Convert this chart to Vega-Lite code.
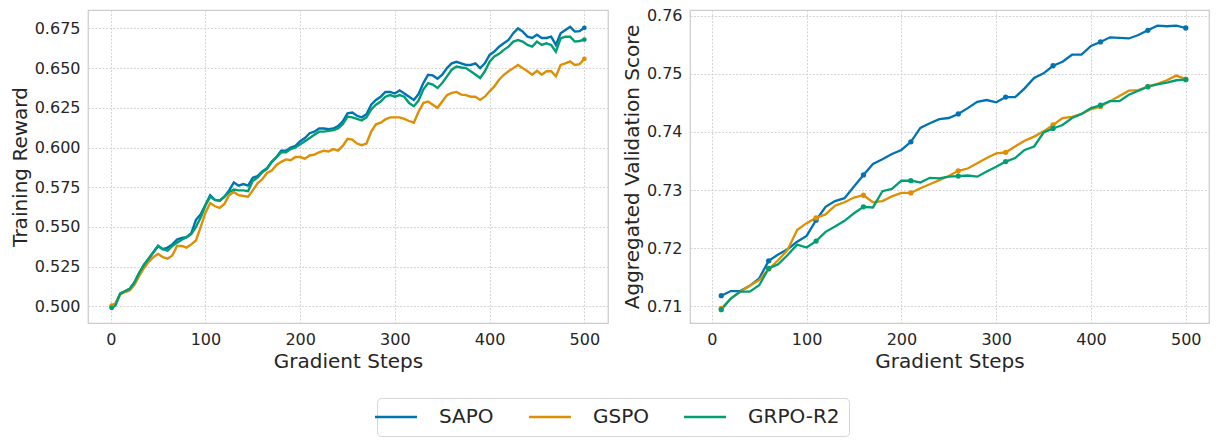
{
  "$schema": "https://vega.github.io/schema/vega-lite/v6.json",
  "background": "white",
  "padding": {"left": 9, "top": 7, "right": 5, "bottom": 5},
  "spacing": 12,
  "config": {
    "font": "DejaVu Sans",
    "view": {"stroke": "#cccccc", "strokeWidth": 1.25},
    "axis": {
      "domain": false,
      "ticks": false,
      "labelFontSize": 16,
      "labelColor": "#262626",
      "labelPadding": 8,
      "titleFontSize": 20,
      "titleFontWeight": "normal",
      "titleColor": "#262626",
      "titlePadding": 4,
      "gridColor": "#d4d4d4",
      "gridDash": [2, 1.5],
      "gridWidth": 1
    },
    "legend": {
      "orient": "none",
      "legendX": 289,
      "legendY": 388,
      "direction": "horizontal",
      "title": null,
      "symbolType": "M-4,0H4",
      "symbolSize": 110,
      "symbolStrokeWidth": 2.5,
      "labelFontSize": 20,
      "labelColor": "#262626",
      "labelOffset": 33,
      "columnPadding": 30,
      "padding": 9,
      "strokeColor": "#d6d6d6",
      "cornerRadius": 4,
      "fillColor": "white"
    }
  },
  "datasets": {
    "train": [
      {"step": 1, "SAPO": 0.4995, "GSPO": 0.5005, "GRPO-R2": 0.4990},
      {"step": 5, "SAPO": 0.5015, "GSPO": 0.5020, "GRPO-R2": 0.5005},
      {"step": 10, "SAPO": 0.5080, "GSPO": 0.5075, "GRPO-R2": 0.5080},
      {"step": 15, "SAPO": 0.5095, "GSPO": 0.5090, "GRPO-R2": 0.5095},
      {"step": 20, "SAPO": 0.5110, "GSPO": 0.5100, "GRPO-R2": 0.5110},
      {"step": 25, "SAPO": 0.5150, "GSPO": 0.5135, "GRPO-R2": 0.5150},
      {"step": 30, "SAPO": 0.5210, "GSPO": 0.5190, "GRPO-R2": 0.5210},
      {"step": 35, "SAPO": 0.5260, "GSPO": 0.5240, "GRPO-R2": 0.5260},
      {"step": 40, "SAPO": 0.5300, "GSPO": 0.5280, "GRPO-R2": 0.5300},
      {"step": 45, "SAPO": 0.5340, "GSPO": 0.5310, "GRPO-R2": 0.5340},
      {"step": 50, "SAPO": 0.5380, "GSPO": 0.5330, "GRPO-R2": 0.5380},
      {"step": 55, "SAPO": 0.5360, "GSPO": 0.5310, "GRPO-R2": 0.5360},
      {"step": 60, "SAPO": 0.5370, "GSPO": 0.5300, "GRPO-R2": 0.5350},
      {"step": 65, "SAPO": 0.5390, "GSPO": 0.5320, "GRPO-R2": 0.5380},
      {"step": 70, "SAPO": 0.5420, "GSPO": 0.5380, "GRPO-R2": 0.5400},
      {"step": 75, "SAPO": 0.5430, "GSPO": 0.5380, "GRPO-R2": 0.5420},
      {"step": 80, "SAPO": 0.5435, "GSPO": 0.5370, "GRPO-R2": 0.5435},
      {"step": 85, "SAPO": 0.5460, "GSPO": 0.5390, "GRPO-R2": 0.5455},
      {"step": 90, "SAPO": 0.5545, "GSPO": 0.5415, "GRPO-R2": 0.5500},
      {"step": 95, "SAPO": 0.5580, "GSPO": 0.5500, "GRPO-R2": 0.5560},
      {"step": 100, "SAPO": 0.5640, "GSPO": 0.5590, "GRPO-R2": 0.5635},
      {"step": 105, "SAPO": 0.5700, "GSPO": 0.5650, "GRPO-R2": 0.5690},
      {"step": 110, "SAPO": 0.5670, "GSPO": 0.5630, "GRPO-R2": 0.5670},
      {"step": 115, "SAPO": 0.5665, "GSPO": 0.5620, "GRPO-R2": 0.5665},
      {"step": 120, "SAPO": 0.5690, "GSPO": 0.5645, "GRPO-R2": 0.5690},
      {"step": 125, "SAPO": 0.5730, "GSPO": 0.5700, "GRPO-R2": 0.5720},
      {"step": 130, "SAPO": 0.5780, "GSPO": 0.5720, "GRPO-R2": 0.5735},
      {"step": 135, "SAPO": 0.5760, "GSPO": 0.5700, "GRPO-R2": 0.5730},
      {"step": 140, "SAPO": 0.5770, "GSPO": 0.5695, "GRPO-R2": 0.5730},
      {"step": 145, "SAPO": 0.5760, "GSPO": 0.5690, "GRPO-R2": 0.5725},
      {"step": 150, "SAPO": 0.5810, "GSPO": 0.5730, "GRPO-R2": 0.5790},
      {"step": 155, "SAPO": 0.5820, "GSPO": 0.5775, "GRPO-R2": 0.5810},
      {"step": 160, "SAPO": 0.5850, "GSPO": 0.5800, "GRPO-R2": 0.5845},
      {"step": 165, "SAPO": 0.5870, "GSPO": 0.5840, "GRPO-R2": 0.5865},
      {"step": 170, "SAPO": 0.5910, "GSPO": 0.5855, "GRPO-R2": 0.5910},
      {"step": 175, "SAPO": 0.5940, "GSPO": 0.5890, "GRPO-R2": 0.5940},
      {"step": 180, "SAPO": 0.5980, "GSPO": 0.5910, "GRPO-R2": 0.5970},
      {"step": 185, "SAPO": 0.5980, "GSPO": 0.5925, "GRPO-R2": 0.5970},
      {"step": 190, "SAPO": 0.6000, "GSPO": 0.5920, "GRPO-R2": 0.5990},
      {"step": 195, "SAPO": 0.6010, "GSPO": 0.5940, "GRPO-R2": 0.6000},
      {"step": 200, "SAPO": 0.6040, "GSPO": 0.5940, "GRPO-R2": 0.6020},
      {"step": 205, "SAPO": 0.6060, "GSPO": 0.5930, "GRPO-R2": 0.6040},
      {"step": 210, "SAPO": 0.6090, "GSPO": 0.5950, "GRPO-R2": 0.6060},
      {"step": 215, "SAPO": 0.6100, "GSPO": 0.5955, "GRPO-R2": 0.6080},
      {"step": 220, "SAPO": 0.6120, "GSPO": 0.5970, "GRPO-R2": 0.6100},
      {"step": 225, "SAPO": 0.6120, "GSPO": 0.5980, "GRPO-R2": 0.6100},
      {"step": 230, "SAPO": 0.6115, "GSPO": 0.5975, "GRPO-R2": 0.6105},
      {"step": 235, "SAPO": 0.6120, "GSPO": 0.5990, "GRPO-R2": 0.6110},
      {"step": 240, "SAPO": 0.6135, "GSPO": 0.5980, "GRPO-R2": 0.6120},
      {"step": 245, "SAPO": 0.6165, "GSPO": 0.6010, "GRPO-R2": 0.6146},
      {"step": 250, "SAPO": 0.6215, "GSPO": 0.6055, "GRPO-R2": 0.6195},
      {"step": 255, "SAPO": 0.6220, "GSPO": 0.6050, "GRPO-R2": 0.6190},
      {"step": 260, "SAPO": 0.6200, "GSPO": 0.6025, "GRPO-R2": 0.6180},
      {"step": 265, "SAPO": 0.6190, "GSPO": 0.6015, "GRPO-R2": 0.6170},
      {"step": 270, "SAPO": 0.6210, "GSPO": 0.6025, "GRPO-R2": 0.6190},
      {"step": 275, "SAPO": 0.6270, "GSPO": 0.6100, "GRPO-R2": 0.6240},
      {"step": 280, "SAPO": 0.6300, "GSPO": 0.6146, "GRPO-R2": 0.6270},
      {"step": 285, "SAPO": 0.6320, "GSPO": 0.6156, "GRPO-R2": 0.6290},
      {"step": 290, "SAPO": 0.6350, "GSPO": 0.6177, "GRPO-R2": 0.6320},
      {"step": 295, "SAPO": 0.6350, "GSPO": 0.6190, "GRPO-R2": 0.6330},
      {"step": 300, "SAPO": 0.6340, "GSPO": 0.6190, "GRPO-R2": 0.6320},
      {"step": 305, "SAPO": 0.6360, "GSPO": 0.6190, "GRPO-R2": 0.6330},
      {"step": 310, "SAPO": 0.6340, "GSPO": 0.6180, "GRPO-R2": 0.6320},
      {"step": 315, "SAPO": 0.6320, "GSPO": 0.6167, "GRPO-R2": 0.6280},
      {"step": 320, "SAPO": 0.6300, "GSPO": 0.6156, "GRPO-R2": 0.6260},
      {"step": 325, "SAPO": 0.6337, "GSPO": 0.6225, "GRPO-R2": 0.6296},
      {"step": 330, "SAPO": 0.6406, "GSPO": 0.6280, "GRPO-R2": 0.6365},
      {"step": 335, "SAPO": 0.6458, "GSPO": 0.6290, "GRPO-R2": 0.6406},
      {"step": 340, "SAPO": 0.6454, "GSPO": 0.6270, "GRPO-R2": 0.6396},
      {"step": 345, "SAPO": 0.6433, "GSPO": 0.6250, "GRPO-R2": 0.6375},
      {"step": 350, "SAPO": 0.6458, "GSPO": 0.6290, "GRPO-R2": 0.6406},
      {"step": 355, "SAPO": 0.6500, "GSPO": 0.6330, "GRPO-R2": 0.6448},
      {"step": 360, "SAPO": 0.6530, "GSPO": 0.6344, "GRPO-R2": 0.6490},
      {"step": 365, "SAPO": 0.6540, "GSPO": 0.6350, "GRPO-R2": 0.6510},
      {"step": 370, "SAPO": 0.6530, "GSPO": 0.6333, "GRPO-R2": 0.6504},
      {"step": 375, "SAPO": 0.6520, "GSPO": 0.6330, "GRPO-R2": 0.6500},
      {"step": 380, "SAPO": 0.6520, "GSPO": 0.6320, "GRPO-R2": 0.6480},
      {"step": 385, "SAPO": 0.6530, "GSPO": 0.6320, "GRPO-R2": 0.6460},
      {"step": 390, "SAPO": 0.6500, "GSPO": 0.6300, "GRPO-R2": 0.6438},
      {"step": 395, "SAPO": 0.6530, "GSPO": 0.6320, "GRPO-R2": 0.6480},
      {"step": 400, "SAPO": 0.6583, "GSPO": 0.6354, "GRPO-R2": 0.6540},
      {"step": 405, "SAPO": 0.6604, "GSPO": 0.6385, "GRPO-R2": 0.6573},
      {"step": 410, "SAPO": 0.6635, "GSPO": 0.6427, "GRPO-R2": 0.6590},
      {"step": 415, "SAPO": 0.6656, "GSPO": 0.6458, "GRPO-R2": 0.6615},
      {"step": 420, "SAPO": 0.6677, "GSPO": 0.6480, "GRPO-R2": 0.6635},
      {"step": 425, "SAPO": 0.6720, "GSPO": 0.6500, "GRPO-R2": 0.6667},
      {"step": 430, "SAPO": 0.6750, "GSPO": 0.6520, "GRPO-R2": 0.6677},
      {"step": 435, "SAPO": 0.6730, "GSPO": 0.6500, "GRPO-R2": 0.6667},
      {"step": 440, "SAPO": 0.6698, "GSPO": 0.6480, "GRPO-R2": 0.6646},
      {"step": 445, "SAPO": 0.6690, "GSPO": 0.6458, "GRPO-R2": 0.6635},
      {"step": 450, "SAPO": 0.6710, "GSPO": 0.6483, "GRPO-R2": 0.6667},
      {"step": 455, "SAPO": 0.6690, "GSPO": 0.6458, "GRPO-R2": 0.6646},
      {"step": 460, "SAPO": 0.6690, "GSPO": 0.6480, "GRPO-R2": 0.6656},
      {"step": 465, "SAPO": 0.6698, "GSPO": 0.6480, "GRPO-R2": 0.6646},
      {"step": 470, "SAPO": 0.6646, "GSPO": 0.6448, "GRPO-R2": 0.6604},
      {"step": 475, "SAPO": 0.6720, "GSPO": 0.6520, "GRPO-R2": 0.6687},
      {"step": 480, "SAPO": 0.6740, "GSPO": 0.6530, "GRPO-R2": 0.6698},
      {"step": 485, "SAPO": 0.6760, "GSPO": 0.6542, "GRPO-R2": 0.6698},
      {"step": 490, "SAPO": 0.6730, "GSPO": 0.6520, "GRPO-R2": 0.6667},
      {"step": 495, "SAPO": 0.6733, "GSPO": 0.6525, "GRPO-R2": 0.6671},
      {"step": 500, "SAPO": 0.6754, "GSPO": 0.6558, "GRPO-R2": 0.6680}
    ],
    "val": [
      {"step": 10, "SAPO": 0.7118, "GSPO": 0.7096, "GRPO-R2": 0.7094},
      {"step": 20, "SAPO": 0.7126, "GSPO": 0.7113, "GRPO-R2": 0.7113},
      {"step": 30, "SAPO": 0.7126, "GSPO": 0.7125, "GRPO-R2": 0.7125},
      {"step": 40, "SAPO": 0.7135, "GSPO": 0.7135, "GRPO-R2": 0.7125},
      {"step": 50, "SAPO": 0.7148, "GSPO": 0.7145, "GRPO-R2": 0.7136},
      {"step": 60, "SAPO": 0.7178, "GSPO": 0.7164, "GRPO-R2": 0.7165},
      {"step": 70, "SAPO": 0.7189, "GSPO": 0.7179, "GRPO-R2": 0.7172},
      {"step": 80, "SAPO": 0.7198, "GSPO": 0.7197, "GRPO-R2": 0.7188},
      {"step": 90, "SAPO": 0.7211, "GSPO": 0.7231, "GRPO-R2": 0.7206},
      {"step": 100, "SAPO": 0.7221, "GSPO": 0.7243, "GRPO-R2": 0.7201},
      {"step": 110, "SAPO": 0.7248, "GSPO": 0.7252, "GRPO-R2": 0.7212},
      {"step": 120, "SAPO": 0.7271, "GSPO": 0.7258, "GRPO-R2": 0.7228},
      {"step": 130, "SAPO": 0.7281, "GSPO": 0.7273, "GRPO-R2": 0.7237},
      {"step": 140, "SAPO": 0.7286, "GSPO": 0.7279, "GRPO-R2": 0.7247},
      {"step": 150, "SAPO": 0.7306, "GSPO": 0.7287, "GRPO-R2": 0.7260},
      {"step": 160, "SAPO": 0.7326, "GSPO": 0.7291, "GRPO-R2": 0.7271},
      {"step": 170, "SAPO": 0.7345, "GSPO": 0.7279, "GRPO-R2": 0.7270},
      {"step": 180, "SAPO": 0.7353, "GSPO": 0.7281, "GRPO-R2": 0.7298},
      {"step": 190, "SAPO": 0.7362, "GSPO": 0.7289, "GRPO-R2": 0.7302},
      {"step": 200, "SAPO": 0.7369, "GSPO": 0.7295, "GRPO-R2": 0.7316},
      {"step": 210, "SAPO": 0.7383, "GSPO": 0.7295, "GRPO-R2": 0.7316},
      {"step": 220, "SAPO": 0.7407, "GSPO": 0.7303, "GRPO-R2": 0.7313},
      {"step": 230, "SAPO": 0.7415, "GSPO": 0.7310, "GRPO-R2": 0.7321},
      {"step": 240, "SAPO": 0.7422, "GSPO": 0.7317, "GRPO-R2": 0.7320},
      {"step": 250, "SAPO": 0.7424, "GSPO": 0.7324, "GRPO-R2": 0.7323},
      {"step": 260, "SAPO": 0.7431, "GSPO": 0.7333, "GRPO-R2": 0.7324},
      {"step": 270, "SAPO": 0.7441, "GSPO": 0.7337, "GRPO-R2": 0.7325},
      {"step": 280, "SAPO": 0.7452, "GSPO": 0.7346, "GRPO-R2": 0.7323},
      {"step": 290, "SAPO": 0.7455, "GSPO": 0.7355, "GRPO-R2": 0.7332},
      {"step": 300, "SAPO": 0.7451, "GSPO": 0.7363, "GRPO-R2": 0.7340},
      {"step": 310, "SAPO": 0.7460, "GSPO": 0.7365, "GRPO-R2": 0.7349},
      {"step": 320, "SAPO": 0.7460, "GSPO": 0.7375, "GRPO-R2": 0.7355},
      {"step": 330, "SAPO": 0.7475, "GSPO": 0.7385, "GRPO-R2": 0.7369},
      {"step": 340, "SAPO": 0.7493, "GSPO": 0.7392, "GRPO-R2": 0.7375},
      {"step": 350, "SAPO": 0.7501, "GSPO": 0.7401, "GRPO-R2": 0.7399},
      {"step": 360, "SAPO": 0.7514, "GSPO": 0.7412, "GRPO-R2": 0.7406},
      {"step": 370, "SAPO": 0.7521, "GSPO": 0.7424, "GRPO-R2": 0.7412},
      {"step": 380, "SAPO": 0.7533, "GSPO": 0.7426, "GRPO-R2": 0.7424},
      {"step": 390, "SAPO": 0.7533, "GSPO": 0.7431, "GRPO-R2": 0.7431},
      {"step": 400, "SAPO": 0.7548, "GSPO": 0.7439, "GRPO-R2": 0.7441},
      {"step": 410, "SAPO": 0.7555, "GSPO": 0.7444, "GRPO-R2": 0.7446},
      {"step": 420, "SAPO": 0.7563, "GSPO": 0.7453, "GRPO-R2": 0.7453},
      {"step": 430, "SAPO": 0.7562, "GSPO": 0.7462, "GRPO-R2": 0.7453},
      {"step": 440, "SAPO": 0.7561, "GSPO": 0.7471, "GRPO-R2": 0.7464},
      {"step": 450, "SAPO": 0.7567, "GSPO": 0.7472, "GRPO-R2": 0.7471},
      {"step": 460, "SAPO": 0.7575, "GSPO": 0.7478, "GRPO-R2": 0.7478},
      {"step": 470, "SAPO": 0.7583, "GSPO": 0.7483, "GRPO-R2": 0.7482},
      {"step": 480, "SAPO": 0.7582, "GSPO": 0.7489, "GRPO-R2": 0.7485},
      {"step": 490, "SAPO": 0.7583, "GSPO": 0.7497, "GRPO-R2": 0.7489},
      {"step": 500, "SAPO": 0.7579, "GSPO": 0.7491, "GRPO-R2": 0.7490}
    ]
  },
  "hconcat": [
    {
      "width": 520,
      "height": 313,
      "data": {"name": "train"},
      "transform": [{"fold": ["SAPO", "GSPO", "GRPO-R2"], "as": ["method", "reward"]}],
      "encoding": {
        "x": {
          "field": "step", "type": "quantitative",
          "scale": {"domain": [-24, 525], "nice": false, "zero": false},
          "axis": {"values": [0, 100, 200, 300, 400, 500], "title": "Gradient Steps"}
        },
        "y": {
          "field": "reward", "type": "quantitative",
          "scale": {"domain": [0.4895, 0.6866], "nice": false, "zero": false},
          "axis": {"values": [0.5, 0.525, 0.55, 0.575, 0.6, 0.625, 0.65, 0.675], "format": ".3f", "title": "Training Reward"}
        },
        "color": {
          "field": "method", "type": "nominal",
          "scale": {"domain": ["SAPO", "GSPO", "GRPO-R2"], "range": ["#0173b2", "#de8f05", "#029e73"]}
        }
      },
      "layer": [
        {"mark": {"type": "line", "strokeWidth": 2.4}},
        {
          "transform": [{"filter": "datum.step === 1 || datum.step === 500"}],
          "mark": {"type": "point", "filled": true, "size": 22, "opacity": 1}
        }
      ]
    },
    {
      "width": 519,
      "height": 313,
      "data": {"name": "val"},
      "transform": [{"fold": ["SAPO", "GSPO", "GRPO-R2"], "as": ["method", "score"]}],
      "encoding": {
        "x": {
          "field": "step", "type": "quantitative",
          "scale": {"domain": [-23, 524.5], "nice": false, "zero": false},
          "axis": {"values": [0, 100, 200, 300, 400, 500], "title": "Gradient Steps"}
        },
        "y": {
          "field": "score", "type": "quantitative",
          "scale": {"domain": [0.7071, 0.761], "nice": false, "zero": false},
          "axis": {"values": [0.71, 0.72, 0.73, 0.74, 0.75, 0.76], "format": ".2f", "title": "Aggregated Validation Score"}
        },
        "color": {
          "field": "method", "type": "nominal",
          "scale": {"domain": ["SAPO", "GSPO", "GRPO-R2"], "range": ["#0173b2", "#de8f05", "#029e73"]}
        }
      },
      "layer": [
        {"mark": {"type": "line", "strokeWidth": 2.3}},
        {
          "transform": [{"filter": "datum.step % 50 === 10 || datum.step === 500"}],
          "mark": {"type": "point", "filled": true, "size": 28, "opacity": 1}
        }
      ]
    }
  ]
}
